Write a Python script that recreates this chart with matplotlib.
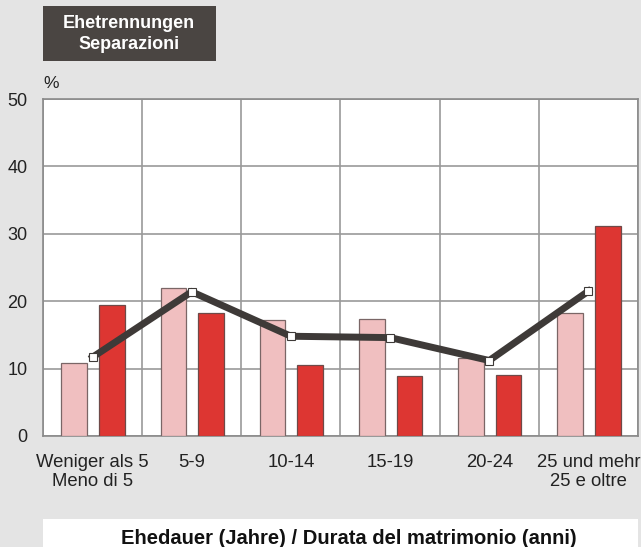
import numpy as np
import matplotlib.pyplot as plt
from matplotlib.patches import Rectangle

plt.rcParams['font.family'] = ['Liberation Sans', 'DejaVu Sans']

# data
categories = ['Weniger als 5\nMeno di 5', '5-9', '10-14', '15-19', '20-24', '25 und mehr\n25 e oltre']
pink_vals = [10.8, 22.0, 17.2, 17.4, 11.6, 18.2]
red_vals = [19.5, 18.3, 10.5, 8.9, 9.1, 31.2]
line_vals = [11.7, 21.4, 14.8, 14.6, 11.2, 21.5]
y_ticks = [0, 10, 20, 30, 40, 50]

bg = '#e4e4e4'
fig = plt.figure(figsize=(6.41, 5.47), dpi=100, facecolor=bg)
ax = fig.add_axes([43 / 641, 111 / 547, 595 / 641, 337 / 547])
ax.set_facecolor('white')

x = np.arange(len(categories))
w = 0.26
ax.bar(x - 0.185, pink_vals, w, color='#f0bfc0', edgecolor='#7a6666', linewidth=0.9, zorder=3)
ax.bar(x + 0.195, red_vals, w, color='#dd3632', edgecolor='#6e4a48', linewidth=0.9, zorder=3)
ax.plot(x, line_vals, color='#3e3a38', linewidth=5, solid_joinstyle='miter', zorder=4)
ax.plot(x, line_vals, linestyle='none', marker='s', markersize=6,
        markerfacecolor='white', markeredgecolor='#3e3a38', markeredgewidth=0.8, zorder=5)

ax.set_xlim(-0.5, len(categories) - 0.5)
ax.set_ylim(0, 50)
ax.set_yticks(y_ticks)
ax.set_yticklabels([str(v) for v in y_ticks], fontsize=13, color='#222222')
ax.set_xticks(x)
ax.set_xticklabels(categories, fontsize=13.3, color='#222222', linespacing=1.17)
ax.set_xticks(np.arange(len(categories) + 1) - 0.5, minor=True)
ax.tick_params(axis='both', which='both', length=0)
ax.tick_params(axis='y', pad=11)
ax.tick_params(axis='x', pad=13)
ax.grid(True, axis='y', color='#9a9a9a', linewidth=1.2, zorder=0)
ax.grid(True, axis='x', which='minor', color='#9a9a9a', linewidth=1.2, zorder=0)
for s in ax.spines.values():
    s.set_color('#8a8a8a')
    s.set_linewidth(1.2)

fig.text(43 / 641, 1 - 84 / 547, '%', fontsize=12.5, color='#222222', va='center', ha='left')

# title box
fig.add_artist(Rectangle((43 / 641, 1 - 61 / 547), 173 / 641, 55 / 547,
                         transform=fig.transFigure, facecolor='#4a4542', edgecolor='none'))
fig.text(129 / 641, 1 - 34 / 547, 'Ehetrennungen\nSeparazioni', fontsize=13, fontweight='bold',
         color='white', ha='center', va='center', linespacing=1.3)

# bottom axis title box
fig.add_artist(Rectangle((43 / 641, 0), 595 / 641, 28 / 547,
                         transform=fig.transFigure, facecolor='white', edgecolor='none'))
fig.text(349 / 641, 1 - 539 / 547, 'Ehedauer (Jahre) / Durata del matrimonio (anni)',
         fontsize=14.5, fontweight='bold', color='#111111', ha='center', va='center')

fig.savefig('out.png', dpi=100, facecolor=bg)
